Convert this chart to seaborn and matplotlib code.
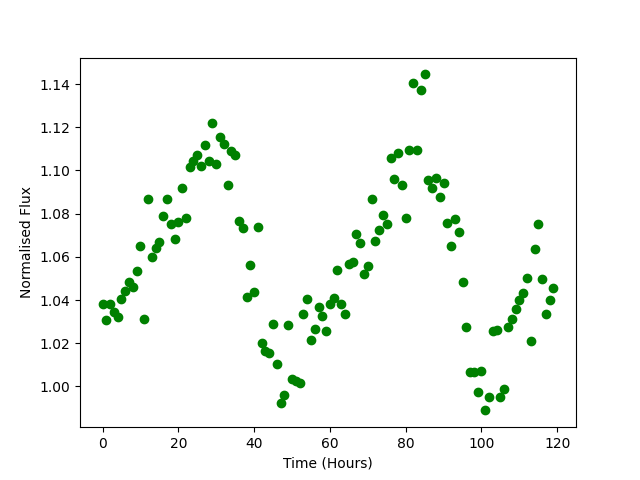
import matplotlib
matplotlib.use('Agg')
import matplotlib.pyplot as plt
import numpy as np
import seaborn as sns

# time in hours, one sample per hour
hours = np.arange(0, 120)

# normalised flux
flux = [
    1.0383, 1.0309, 1.0380, 1.0346, 1.0323, 1.0403, 1.0444, 1.0485, 1.0462, 1.0536,
    1.0652, 1.0310, 1.0866, 1.0601, 1.0643, 1.0668, 1.0787, 1.0866, 1.0751, 1.0685,
    1.0763, 1.0921, 1.0782, 1.1014, 1.1042, 1.1070, 1.1019, 1.1116, 1.1042, 1.1218,
    1.1032, 1.1153, 1.1121, 1.0935, 1.1088, 1.1070, 1.0764, 1.0736, 1.0413, 1.0564,
    1.0439, 1.0740, 1.0199, 1.0165, 1.0156, 1.0287, 1.0105, 0.9923, 0.9960, 1.0283,
    1.0036, 1.0026, 1.0017, 1.0337, 1.0403, 1.0216, 1.0264, 1.0366, 1.0328, 1.0258,
    1.0383, 1.0408, 1.0538, 1.0383, 1.0337, 1.0569, 1.0578, 1.0705, 1.0663, 1.0521,
    1.0556, 1.0867, 1.0672, 1.0726, 1.0793, 1.0754, 1.1060, 1.0960, 1.1083, 1.0935,
    1.0782, 1.1093, 1.1403, 1.1093, 1.1371, 1.1445, 1.0958, 1.0921, 1.0964, 1.0875,
    1.0944, 1.0759, 1.0652, 1.0777, 1.0717, 1.0485, 1.0277, 1.0068, 1.0068, 0.9972,
    1.0073, 0.9889, 0.9952, 1.0258, 1.0263, 0.9952, 0.9989, 1.0274, 1.0314, 1.0360,
    1.0402, 1.0434, 1.0504, 1.0212, 1.0638, 1.0754, 1.0499, 1.0337, 1.0402, 1.0458,
]

fig, ax = plt.subplots(figsize=(6.4, 4.8), dpi=100)

# same look as plt.plot(x, y, 'go')
sns.scatterplot(x=hours, y=flux, color='green', s=36, edgecolor='green',
                linewidth=1, ax=ax)

ax.set_xlabel('Time (Hours)')
ax.set_ylabel('Normalised Flux')

fig.savefig('out.png', dpi=100)
